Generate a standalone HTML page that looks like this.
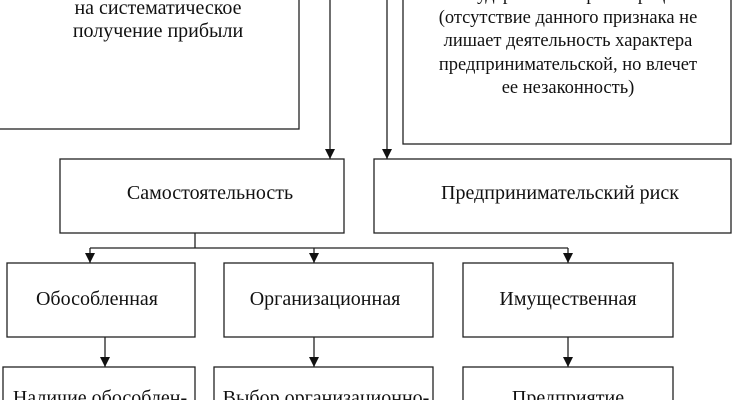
<!DOCTYPE html>
<html><head><meta charset="utf-8"><style>
html,body{margin:0;padding:0;background:#fff;}
svg{display:block;}
text{font-family:"Liberation Serif","Noto Serif CJK SC",serif;font-size:20px;fill:#111;text-anchor:middle;}
text.s{font-size:18.5px;}
</style></head><body>
<svg width="733" height="400" viewBox="0 0 733 400" xmlns="http://www.w3.org/2000/svg">
<defs><marker id="a" markerWidth="10" markerHeight="10" refX="10" refY="5" orient="auto" markerUnits="userSpaceOnUse"><path d="M0,0 L10,5 L0,10 Z" fill="#111"/></marker></defs>
<g fill="none" stroke="#222" stroke-width="1.3">
<rect x="-2" y="-5" width="301" height="134"/>
<rect x="403" y="-5" width="328" height="149"/>
<rect x="60" y="159" width="284" height="74"/>
<rect x="374" y="159" width="357" height="74"/>
<rect x="7" y="263" width="188" height="74"/>
<rect x="224" y="263" width="209" height="74"/>
<rect x="463" y="263" width="210" height="74"/>
<rect x="3" y="367" width="192" height="50"/>
<rect x="214" y="367" width="219" height="50"/>
<rect x="463" y="367" width="210" height="50"/>
<line x1="330" y1="0" x2="330" y2="159" marker-end="url(#a)"/>
<line x1="387" y1="0" x2="387" y2="159" marker-end="url(#a)"/>
<line x1="195" y1="233" x2="195" y2="248"/>
<line x1="90" y1="248" x2="568" y2="248"/>
<line x1="90" y1="248" x2="90" y2="263" marker-end="url(#a)"/>
<line x1="314" y1="248" x2="314" y2="263" marker-end="url(#a)"/>
<line x1="568" y1="248" x2="568" y2="263" marker-end="url(#a)"/>
<line x1="105" y1="337" x2="105" y2="367" marker-end="url(#a)"/>
<line x1="314" y1="337" x2="314" y2="367" marker-end="url(#a)"/>
<line x1="568" y1="337" x2="568" y2="367" marker-end="url(#a)"/>
</g>
<text x="158" y="14">на систематическое</text>
<text x="158" y="37">получение прибыли</text>
<text class="s" x="568" y="0">государственная регистрация</text>
<text class="s" x="568" y="23">(отсутствие данного признака не</text>
<text class="s" x="568" y="46">лишает деятельность характера</text>
<text class="s" x="568" y="70">предпринимательской, но влечет</text>
<text class="s" x="568" y="93">ее незаконность)</text>
<text x="210" y="199">Самостоятельность</text>
<text x="560" y="199">Предпринимательский риск</text>
<text x="97" y="305">Обособленная</text>
<text x="325" y="305">Организационная</text>
<text x="568" y="305">Имущественная</text>
<text x="100" y="404">Наличие обособлен-</text>
<text x="326" y="404">Выбор организационно-</text>
<text x="568" y="404">Предприятие</text>
</svg>
</body></html>
